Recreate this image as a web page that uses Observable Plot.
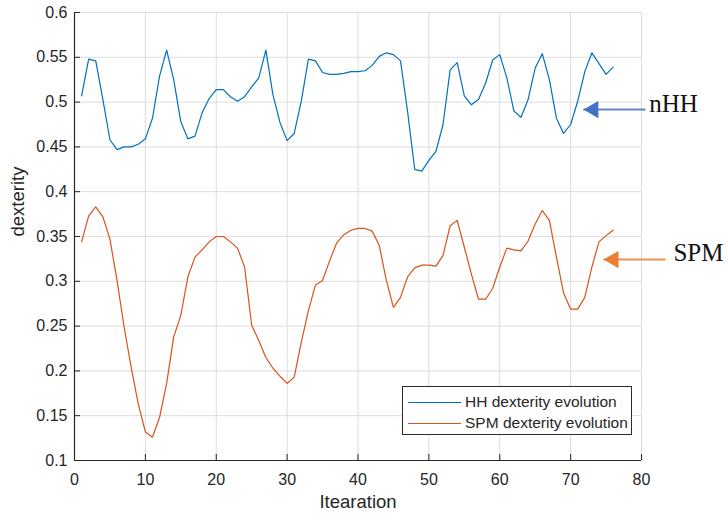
<!DOCTYPE html>
<html>
<head>
<meta charset="utf-8">
<script src="https://cdn.jsdelivr.net/npm/d3@7"></script>
<script src="https://cdn.jsdelivr.net/npm/@observablehq/plot@0.6"></script>
<style>
  html, body { margin: 0; padding: 0; background: #fff; }
  #wrap { position: relative; width: 728px; height: 519px; font-family: "Liberation Sans", Arial, sans-serif; }
  #legend { position: absolute; left: 402px; top: 386px; width: 228px; height: 47px; border: 1px solid #2b2b2b; background: #fff; font-size: 15.5px; color: #262626; }
  .row { position: absolute; left: 0; height: 20px; display: flex; align-items: center; }
  .sw { width: 53px; height: 0; border-top: 1.3px solid; margin-left: 5px; margin-right: 4px; }
</style>
</head>
<body>
<div id="wrap"></div>
<script>
const iterations = d3.range(1, 77);
const hhValues = [
  0.507, 0.548, 0.546, 0.503, 0.458, 0.447, 0.450, 0.450, 0.453, 0.459,
  0.482, 0.529, 0.558, 0.525, 0.478, 0.459, 0.462, 0.488, 0.504, 0.514,
  0.514, 0.506, 0.501, 0.506, 0.517, 0.527, 0.558, 0.508, 0.477, 0.457,
  0.465, 0.501, 0.548, 0.546, 0.533, 0.531, 0.531, 0.532, 0.534, 0.534,
  0.535, 0.541, 0.551, 0.555, 0.553, 0.546, 0.489, 0.425, 0.423, 0.435,
  0.445, 0.475, 0.536, 0.544, 0.507, 0.497, 0.503, 0.521, 0.547, 0.553,
  0.527, 0.490, 0.483, 0.503, 0.538, 0.554, 0.525, 0.482, 0.465, 0.475,
  0.501, 0.534, 0.555, 0.543, 0.531, 0.539
];
const spmValues = [
  0.344, 0.373, 0.383, 0.372, 0.347, 0.301, 0.249, 0.204, 0.163, 0.132,
  0.126, 0.148, 0.186, 0.238, 0.262, 0.305, 0.327, 0.335, 0.344, 0.350,
  0.350, 0.344, 0.337, 0.316, 0.251, 0.234, 0.215, 0.203, 0.194, 0.186,
  0.193, 0.232, 0.267, 0.296, 0.301, 0.323, 0.343, 0.352, 0.357, 0.359,
  0.359, 0.356, 0.340, 0.301, 0.271, 0.282, 0.305, 0.315, 0.318, 0.318,
  0.317, 0.329, 0.362, 0.368, 0.338, 0.308, 0.280, 0.280, 0.292, 0.316,
  0.337, 0.335, 0.334, 0.345, 0.364, 0.379, 0.368, 0.327, 0.287, 0.269,
  0.269, 0.282, 0.316, 0.344, 0.351, 0.357
];
const seriesNames = ["HH dexterity evolution", "SPM dexterity evolution"];
const seriesColors = ["#0072BD", "#D95319"];
const xTicks = [0, 10, 20, 30, 40, 50, 60, 70, 80];
const yTicks = [0.1, 0.15, 0.2, 0.25, 0.3, 0.35, 0.4, 0.45, 0.5, 0.55, 0.6];
const yTickLabels = ["0.1", "0.15", "0.2", "0.25", "0.3", "0.35", "0.4", "0.45", "0.5", "0.55", "0.6"];
const xLabel = "Itearation";
const yLabel = "dexterity";
// annotation arrows: label, tip x, tail x, arrow y, text x, text y
const annLabels = ["nHH", "SPM"];
const annTipX = [71.8, 74.64];
const annTailX = [80.56, 83.4];
const annArrowY = [0.4917, 0.3243];
const annTextX = [81.1, 84.5];
const annTextY = [0.4984, 0.3321];
const annColors = ["#4472C4", "#ED7D31"];

const hh = iterations.map((x, i) => ({x, y: hhValues[i]}));
const spm = iterations.map((x, i) => ({x, y: spmValues[i]}));
const ann = annLabels.map((label, i) => ({label, tip: annTipX[i], tail: annTailX[i], y: annArrowY[i], tx: annTextX[i], ty: annTextY[i], color: annColors[i]}));

const axisColor = "#262626";
const chart = Plot.plot({
  width: 728,
  height: 519,
  marginLeft: 74,
  marginRight: 87,
  marginTop: 12,
  marginBottom: 59,
  style: {fontFamily: "Liberation Sans, Arial, sans-serif", background: "#fff", overflow: "visible"},
  x: {domain: [0, 80], ticks: xTicks},
  y: {domain: [0.1, 0.6], ticks: yTicks},
  marks: [
    Plot.gridX(xTicks, {stroke: "#dcdcdc", strokeOpacity: 1}),
    Plot.gridY(yTicks, {stroke: "#dcdcdc", strokeOpacity: 1}),
    Plot.axisX(xTicks, {tickSize: -6, tickPadding: 19, stroke: axisColor, fill: axisColor, fontSize: 16, label: null}),
    Plot.axisY(yTicks, {tickSize: -6, tickPadding: 13, stroke: axisColor, fill: axisColor, fontSize: 16, label: null,
      tickFormat: (d) => yTickLabels[yTicks.indexOf(d)]}),
    Plot.ruleX([0], {stroke: axisColor, strokeWidth: 1.2}),
    Plot.ruleY([0.1], {stroke: axisColor, strokeWidth: 1.2}),
    Plot.line(hh, {x: "x", y: "y", stroke: seriesColors[0], strokeWidth: 1.2}),
    Plot.line(spm, {x: "x", y: "y", stroke: seriesColors[1], strokeWidth: 1.2}),
    Plot.text([xLabel], {frameAnchor: "bottom", dy: 47, fontSize: 18.5, fill: axisColor}),
    Plot.text([yLabel], {frameAnchor: "left", dx: -56, rotate: -90, fontSize: 18.5, fill: axisColor}),
    Plot.link(ann, {x1: "tip", x2: "tail", y1: "y", y2: "y", stroke: "color", strokeWidth: 2, strokeOpacity: 0.85}),
    Plot.dot(ann, {x: "tip", y: "y", dx: 10, symbol: "triangle", r: 6.4, rotate: -90, fill: "color", stroke: "none"}),
    Plot.text(ann, {x: "tx", y: "ty", text: "label", textAnchor: "start", fontSize: 25, fontFamily: "Liberation Serif, Times New Roman, serif", fill: "#111"})
  ]
});

const wrap = document.getElementById("wrap");
wrap.appendChild(chart);
const legend = document.createElement("div");
legend.id = "legend";
seriesNames.forEach((name, i) => {
  const row = document.createElement("div");
  row.className = "row";
  row.style.top = (i === 0 ? 5 : 26) + "px";
  const sw = document.createElement("div");
  sw.className = "sw";
  sw.style.borderTopColor = seriesColors[i];
  const t = document.createElement("span");
  t.textContent = name;
  row.appendChild(sw);
  row.appendChild(t);
  legend.appendChild(row);
});
wrap.appendChild(legend);
</script>
</body>
</html>
